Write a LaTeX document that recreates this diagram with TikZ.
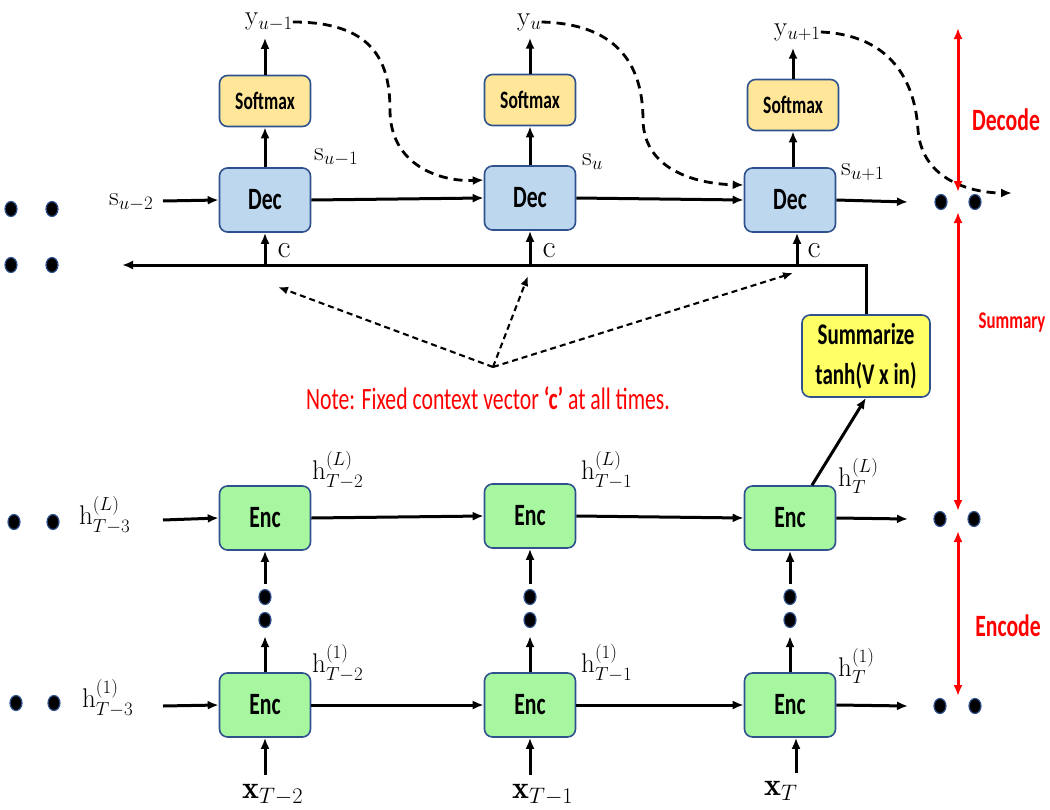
\RequirePackage{fix-cm}
\documentclass[tikz,border=0pt]{standalone}
\usepackage{amsmath}
\usepackage{fontspec}
\usetikzlibrary{arrows.meta,shapes.geometric}
\newfontfamily\boxfont[FakeStretch=0.7]{Carlito}
\definecolor{bordblue}{HTML}{2F528F}
\definecolor{decfill}{HTML}{BDD7EE}
\definecolor{softfill}{HTML}{FFE699}
\definecolor{encfill}{HTML}{A6F7A0}
\definecolor{sumfill}{HTML}{FFFF66}
\tikzset{
  box/.style={draw=bordblue, line width=1.6pt, rounded corners=8pt, minimum width=91pt, inner sep=0pt, align=center},
  decbox/.style={box, fill=decfill, minimum height=64pt, font=\boxfont\bfseries\fontsize{31}{36}\selectfont},
  encbox/.style={box, fill=encfill, minimum height=64pt, font=\boxfont\bfseries\fontsize{31}{36}\selectfont},
  softbox/.style={box, fill=softfill, minimum height=51pt, font=\boxfont\bfseries\fontsize{25}{28}\selectfont},
  sumbox/.style={box, fill=sumfill, minimum width=128pt, minimum height=82pt, font=\boxfont\bfseries\fontsize{30}{40}\selectfont},
  lab/.style={inner sep=0pt, font=\fontsize{27}{32}\selectfont},
  xlab/.style={inner sep=0pt, font=\fontsize{32}{36}\selectfont},
  clab/.style={inner sep=0pt, font=\fontsize{32}{36}\selectfont},
  arr/.style={-{Latex[length=11pt,width=9pt]}, line width=3pt},
  curvearr/.style={-{Latex[length=11pt,width=9pt]}, line width=2.8pt, dash pattern=on 9pt off 6pt},
  narr/.style={-{Latex[length=10pt,width=8pt]}, line width=2.1pt, dash pattern=on 6pt off 4pt},
  dot/.style={ellipse, fill=black, draw=bordblue, line width=1.2pt, minimum width=12pt, minimum height=15pt, inner sep=0pt},
  rarr/.style={{Latex[length=11pt,width=9pt]}-{Latex[length=11pt,width=9pt]}, red, line width=3pt},
  rlab/.style={inner sep=0pt, text=red, font=\boxfont\bfseries\fontsize{31}{36}\selectfont},
  rlabs/.style={inner sep=0pt, text=red, font=\boxfont\bfseries\fontsize{24}{28}\selectfont},
  note/.style={inner sep=0pt, text=red, font=\boxfont\fontsize{31}{36}\selectfont}
}
\begin{document}
\begin{tikzpicture}[x=1pt,y=-1pt]
\useasboundingbox (0,0) rectangle (1050,809);
\clip (0,0) rectangle (1050,809);
% decoder boxes
\node[decbox] (d1) at (265,200) {Dec};
\node[decbox] (d2) at (530,198) {Dec};
\node[decbox] (d3) at (790,200) {Dec};
\node[softbox] (s1) at (265,101) {Softmax};
\node[softbox] (s2) at (530,100) {Softmax};
\node[softbox] (s3) at (793,105) {Softmax};
% y labels
\node[lab, anchor=west] (y1) at (245,22) {$\mathrm{y}_{u-1}$};
\node[lab, anchor=west] (y2) at (517,22) {$\mathrm{y}_{u}$};
\node[lab, anchor=west] (y3) at (774,32) {$\mathrm{y}_{u+1}$};
\draw[arr] (d1.north) -- (s1.south);
\draw[arr] (d2.north) -- (s2.south);
\draw[arr] (s3.south |- d3.north) -- (s3.south);
\draw[arr, shorten >=7pt] (s1.north) -- (s1.north |- y1.south);
\draw[arr, shorten >=7pt] (s2.north) -- (s2.north |- y2.south);
\draw[arr, shorten >=7pt] (s3.north) -- (s3.north |- y3.south);
% s labels
\node[lab, anchor=west] (su2) at (109,202) {$\mathrm{s}_{u-2}$};
\node[lab, anchor=west] (su1) at (314,157) {$\mathrm{s}_{u-1}$};
\node[lab, anchor=west] (su) at (582,162) {$\mathrm{s}_{u}$};
\node[lab, anchor=west] (sup) at (841,172) {$\mathrm{s}_{u+1}$};
\coordinate (sin) at (163,201);
\coordinate (dout) at (908,202);
\draw[arr] (sin) -- (d1.west);
\draw[arr] (d1.east) -- (d2.west);
\draw[arr] (d2.east) -- (d3.west);
\draw[arr] (d3.east) -- (dout);
% dashed feedback curves
\coordinate (yout) at (1012,193);
\draw[curvearr] (y1.east) .. controls (372,22) and (390,60) .. (390,110) .. controls (390,165) and (440,182) .. ([yshift=18pt]d2.west);
\draw[curvearr] (y2.east) .. controls (622,24) and (643,70) .. (643,120) .. controls (644,172) and (700,184) .. ([yshift=15pt]d3.west);
\draw[curvearr] (y3.east) .. controls (890,35) and (915,80) .. (918,130) .. controls (922,182) and (975,193) .. (yout);
% summary box and context line
\node[sumbox] (sum) at (866,356) {Summarize\\tanh(V x in)};
\coordinate (cl) at (122,265);
\draw[arr] (sum.north) |- (cl);
\coordinate (d3in) at ([xshift=7pt]d3.south);
\draw[arr] (d1.south |- cl) -- (d1.south);
\draw[arr] (d2.south |- cl) -- (d2.south);
\draw[arr] (d3in |- cl) -- (d3in);
\node[clab] (c1) at (284,251) {$\mathrm{c}$};
\node[clab] (c2) at (549,251) {$\mathrm{c}$};
\node[clab] (c3) at (814,251) {$\mathrm{c}$};
% note arrows
\coordinate (nt) at (493,367);
\coordinate (na1) at (278,287);
\coordinate (na2) at (528,276);
\coordinate (na3) at (793,273);
\draw[narr] (nt) -- (na1);
\draw[narr] (nt) -- (na2);
\draw[narr] (nt) -- (na3);
\node[note] (note) at (488,398) {Note: Fixed context vector \textbf{‘c’} at all times.};
% encoder boxes
\node[encbox] (eL1) at (265,518) {Enc};
\node[encbox] (eL2) at (530,516) {Enc};
\node[encbox] (eL3) at (790,518) {Enc};
\node[encbox] (e11) at (265,705) {Enc};
\node[encbox] (e12) at (530,705) {Enc};
\node[encbox] (e13) at (790,705) {Enc};
\draw[arr] ([xshift=22pt]eL3.north) -- (sum.south);
% encoder horizontal connections
\coordinate (hinL) at (163,520);
\coordinate (hin1) at (163,706);
\coordinate (outL) at (908,519);
\coordinate (out1) at (908,706);
\draw[arr] (hinL) -- (eL1.west);
\draw[arr] (eL1.east) -- (eL2.west);
\draw[arr] (eL2.east) -- (eL3.west);
\draw[arr] (eL3.east) -- (outL);
\draw[arr] (hin1) -- (e11.west);
\draw[arr] (e11.east) -- (e12.west);
\draw[arr] (e12.east) -- (e13.west);
\draw[arr] (e13.east) -- (out1);
% vertical dots between layers
\foreach \i/\x in {1/265,2/530,3/790}{
  \node[dot] (va\i) at (\x,597) {};
  \node[dot] (vb\i) at (\x,620) {};
  \draw[arr] (e1\i.north) -- ([yshift=-8pt]vb\i.south);
  \draw[arr] ([yshift=5pt]va\i.north) -- (eL\i.south);
}
% h labels
\node[lab, anchor=west] (hL3) at (79,515) {$\mathrm{h}^{(L)}_{T-3}$};
\node[lab, anchor=west] (hL2) at (312,470) {$\mathrm{h}^{(L)}_{T-2}$};
\node[lab, anchor=west] (hL1) at (581,470) {$\mathrm{h}^{(L)}_{T-1}$};
\node[lab, anchor=west] (hLT) at (838,476) {$\mathrm{h}^{(L)}_{T}$};
\node[lab, anchor=west] (h13) at (82,698) {$\mathrm{h}^{(1)}_{T-3}$};
\node[lab, anchor=west] (h12) at (312,663) {$\mathrm{h}^{(1)}_{T-2}$};
\node[lab, anchor=west] (h11) at (581,663) {$\mathrm{h}^{(1)}_{T-1}$};
\node[lab, anchor=west] (h1T) at (838,666) {$\mathrm{h}^{(1)}_{T}$};
% x inputs
\node[xlab, anchor=west] (x1) at (242,795) {$\mathbf{x}_{T-2}$};
\node[xlab, anchor=west] (x2) at (512,795) {$\mathbf{x}_{T-1}$};
\node[xlab, anchor=west] (x3) at (764,791) {$\mathbf{x}_{T}$};
\coordinate (xa1) at (265,775);
\coordinate (xa2) at (530,775);
\coordinate (xa3) at (796,773);
\draw[arr] (xa1) -- (e11.south);
\draw[arr] (xa2) -- (e12.south);
\draw[arr] (xa3) -- (xa3 |- e13.south);
% side dots
\node[dot] (l1a) at (11,209) {};
\node[dot] (l1b) at (52,209) {};
\node[dot] (l2a) at (11,265) {};
\node[dot] (l2b) at (52,265) {};
\node[dot] (l3a) at (14,522) {};
\node[dot] (l3b) at (53,522) {};
\node[dot] (l4a) at (16,703) {};
\node[dot] (l4b) at (54,703) {};
\node[dot] (r1a) at (941,202) {};
\node[dot] (r1b) at (975,202) {};
\node[dot] (r2a) at (940,519) {};
\node[dot] (r2b) at (974,519) {};
\node[dot] (r3a) at (940,706) {};
\node[dot] (r3b) at (975,706) {};
% red stage arrows
\coordinate (rA) at (958,28);
\coordinate (rB) at (958,192);
\coordinate (rC) at (958,212);
\coordinate (rD) at (958,511);
\coordinate (rE) at (958,531);
\coordinate (rF) at (958,696);
\draw[rarr] (rA) -- (rB);
\draw[rarr] (rC) -- (rD);
\draw[rarr] (rE) -- (rF);
\node[rlab] (decl) at (1006,120) {Decode};
\node[rlabs] (suml) at (1012,323) {Summary};
\node[rlab] (encl) at (1008,626) {Encode};
\end{tikzpicture}
\end{document}
